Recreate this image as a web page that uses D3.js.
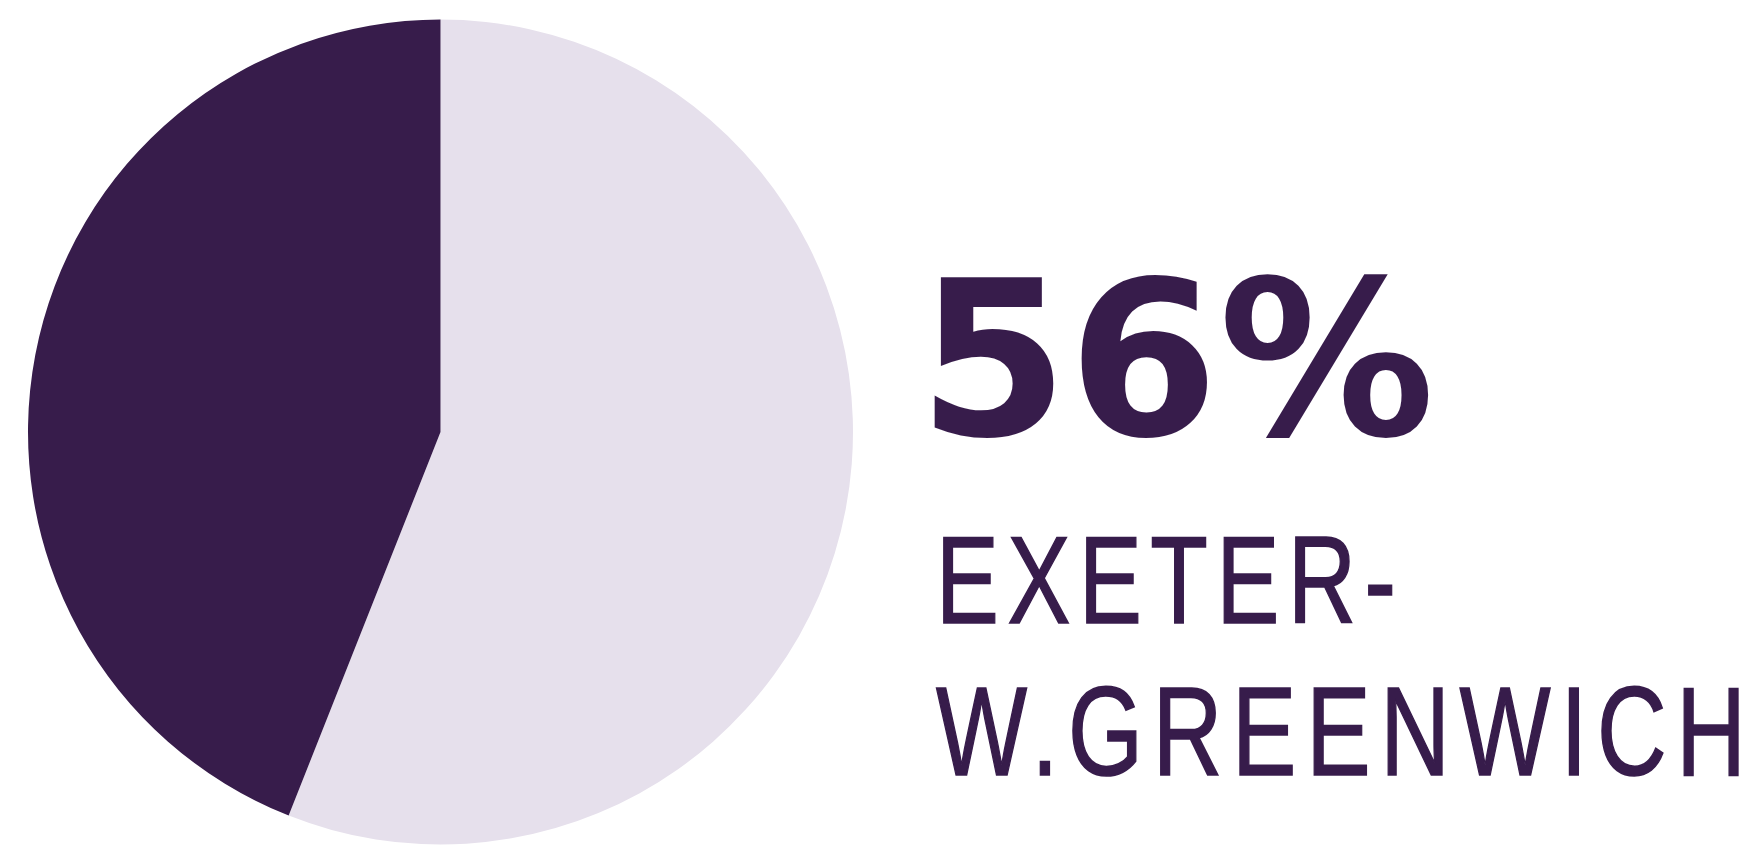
<!DOCTYPE html>
<html>
<head>
<meta charset="utf-8">
<script src="https://cdn.jsdelivr.net/npm/d3@7"></script>
<style>
  html, body { margin: 0; padding: 0; background: #ffffff; }
  svg { display: block; }
</style>
</head>
<body>
<svg id="chart" width="1757" height="854"></svg>
<script>
const categories = ["Exeter-W.Greenwich", "Other"];
const values = [56, 44];
const colors = ["#e6e0ec", "#371c4b"];
const headline = "56%";
const labelLines = ["EXETER-", "W.GREENWICH"];

const svg = d3.select("#chart");
const cx = 440.5, cy = 432, r = 412.5;

const pie = d3.pie().sort(null).value(d => d.value).startAngle(0).endAngle(2 * Math.PI);
const arc = d3.arc().innerRadius(0).outerRadius(r);
const data = categories.map((c, i) => ({ name: c, value: values[i], color: colors[i] }));

svg.append("g")
  .attr("transform", `translate(${cx},${cy})`)
  .selectAll("path")
  .data(pie(data))
  .join("path")
  .attr("d", arc)
  .attr("fill", d => d.data.color);

const textColor = "#371c4b";

svg.append("text")
  .attr("x", 918)
  .attr("y", 435)
  .attr("font-family", "'DejaVu Sans', sans-serif")
  .attr("font-weight", "bold")
  .attr("font-size", 215)
  .attr("fill", textColor)
  .attr("textLength", 517)
  .attr("lengthAdjust", "spacingAndGlyphs")
  .text(headline);

const sx = 0.76;
const lineLayout = [
  { y: 623, x: 936, len: 460, size: 124 },
  { y: 775, x: 936, len: 810, size: 127 }
];

svg.selectAll("g.label")
  .data(labelLines)
  .join("g")
  .attr("class", "label")
  .attr("transform", (d, i) => `translate(${lineLayout[i].x},${lineLayout[i].y}) scale(${sx},1)`)
  .append("text")
  .attr("x", 0)
  .attr("y", 0)
  .attr("font-family", "'Liberation Sans', Arial, sans-serif")
  .attr("font-size", (d, i) => lineLayout[i].size)
  .attr("fill", textColor)
  .attr("stroke", textColor)
  .attr("stroke-width", 1.6)
  .attr("textLength", (d, i) => lineLayout[i].len / sx)
  .attr("lengthAdjust", "spacing")
  .text(d => d);
</script>
</body>
</html>
